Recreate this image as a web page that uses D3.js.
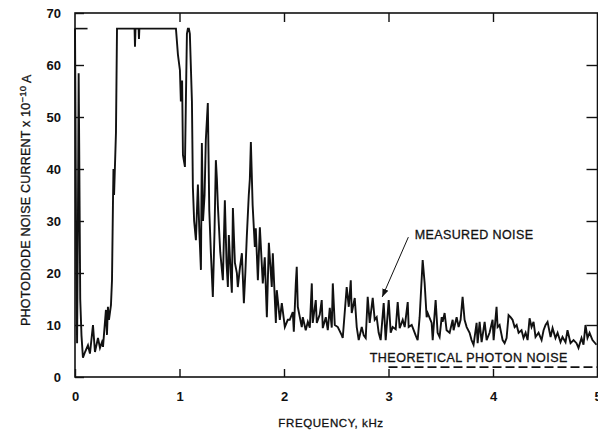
<!DOCTYPE html>
<html>
<head>
<meta charset="utf-8">
<script src="https://cdn.jsdelivr.net/npm/d3@7"></script>
<style>
body { margin: 0; background: #fff; }
text { font-family: "Liberation Sans", Arial, Helvetica, sans-serif; fill: #111; }
.label { stroke: #111; stroke-width: 0.3px; }
</style>
</head>
<body>
<div id="chart"></div>
<script>
// frequency in kHz, noise current in units of 1e-10 A
const freq_ticks = [0, 1, 2, 3, 4, 5];
const current_ticks = [0, 10, 20, 30, 40, 50, 60, 70];

const measured_noise = [
    [0.000, 67], [0.005, 50], [0.012, 20], [0.020, 6.5], [0.028, 30], [0.035, 58.4], [0.040, 45],
    [0.050, 15], [0.062, 8], [0.076, 3.7], [0.096, 4.8], [0.124, 6.1], [0.143, 4.5], [0.172, 10],
    [0.191, 4.8], [0.220, 7.5], [0.239, 5.6], [0.258, 6.7], [0.268, 5.8], [0.296, 12.9], [0.306, 8.1],
    [0.315, 13.5], [0.325, 11], [0.344, 13.8], [0.354, 18.6], [0.363, 33], [0.368, 40], [0.374, 35],
    [0.392, 47], [0.402, 67], [0.570, 67], [0.574, 63.5], [0.579, 67], [0.609, 67], [0.612, 65],
    [0.616, 67], [0.966, 67], [0.985, 62], [1.004, 59], [1.013, 53], [1.025, 57], [1.033, 42.7],
    [1.052, 40.4], [1.061, 53], [1.071, 66], [1.080, 67], [1.090, 67], [1.099, 66], [1.119, 53],
    [1.128, 36.5], [1.140, 30], [1.157, 26.3], [1.176, 37], [1.190, 28], [1.205, 20.6], [1.214, 45],
    [1.225, 30], [1.240, 35], [1.252, 45.6], [1.271, 52.7], [1.285, 32], [1.300, 24], [1.319, 15.4],
    [1.335, 28], [1.348, 41.7], [1.358, 38], [1.367, 33], [1.390, 24], [1.415, 18.6], [1.434, 34],
    [1.450, 22], [1.463, 17.3], [1.472, 27.3], [1.490, 20], [1.501, 16.2], [1.511, 32.5], [1.530, 22],
    [1.549, 20], [1.558, 17.3], [1.578, 21], [1.597, 23.8], [1.616, 14.2], [1.630, 20], [1.644, 27],
    [1.663, 35], [1.673, 38], [1.683, 45.2], [1.700, 33], [1.721, 25], [1.730, 28.6], [1.750, 18.6],
    [1.769, 28.8], [1.797, 18], [1.816, 23], [1.836, 11.5], [1.855, 25.8], [1.883, 17.3], [1.893, 23.8],
    [1.922, 10.4], [1.931, 16.7], [1.960, 11], [1.979, 14.2], [2.008, 9.6], [2.036, 11], [2.055, 11],
    [2.084, 12.5], [2.094, 8.7], [2.113, 18], [2.122, 21.2], [2.132, 13.5], [2.170, 9.6], [2.180, 11.5],
    [2.208, 9], [2.228, 10.6], [2.247, 9.5], [2.266, 18], [2.275, 10.4], [2.304, 14.8], [2.314, 10.4],
    [2.342, 12], [2.361, 14.8], [2.371, 9.4], [2.400, 11.5], [2.419, 9], [2.438, 13.3], [2.457, 9.5],
    [2.467, 18], [2.486, 10], [2.515, 9.6], [2.553, 8], [2.562, 7.5], [2.600, 17.3], [2.620, 13.5],
    [2.639, 18.6], [2.648, 12.3], [2.677, 15.2], [2.696, 9.6], [2.715, 7.1], [2.744, 9.6], [2.763, 8],
    [2.782, 7.5], [2.801, 15.4], [2.820, 10.4], [2.849, 15.2], [2.868, 11], [2.887, 11.5], [2.906, 8.5],
    [2.925, 7.1], [2.954, 14.2], [2.973, 7.1], [3.002, 14.8], [3.021, 8.5], [3.040, 9.6], [3.069, 9.2],
    [3.088, 14.4], [3.107, 9.4], [3.136, 11], [3.155, 9.6], [3.184, 14.4], [3.193, 9.6], [3.222, 10],
    [3.241, 9], [3.260, 8], [3.279, 7.1], [3.298, 11.5], [3.327, 22.5], [3.346, 18], [3.365, 11.5],
    [3.375, 12.3], [3.413, 10.4], [3.423, 7.1], [3.451, 14.8], [3.470, 8.5], [3.489, 7.7], [3.509, 11.5],
    [3.518, 10.6], [3.537, 12.3], [3.556, 9], [3.585, 8.5], [3.614, 11], [3.623, 9], [3.652, 11.5],
    [3.671, 9.6], [3.690, 11], [3.709, 15.4], [3.728, 11], [3.748, 9.6], [3.776, 8.5], [3.795, 7.1],
    [3.814, 6.2], [3.843, 10.4], [3.853, 6.5], [3.872, 10.6], [3.891, 6.7], [3.920, 10.6], [3.939, 7.1],
    [3.967, 8.5], [3.996, 11], [4.006, 7.1], [4.034, 13.5], [4.044, 9.6], [4.063, 10], [4.092, 7.1],
    [4.111, 6.5], [4.130, 7.5], [4.149, 11.9], [4.168, 11.5], [4.187, 11], [4.207, 9.6], [4.226, 10],
    [4.245, 8.5], [4.273, 9], [4.292, 7.5], [4.312, 8.5], [4.331, 7.1], [4.350, 11.3], [4.369, 9.6],
    [4.388, 10.6], [4.407, 7.7], [4.436, 8.5], [4.465, 7.1], [4.484, 9], [4.503, 10], [4.522, 10.6],
    [4.551, 7.7], [4.570, 9.4], [4.598, 7.5], [4.618, 8.5], [4.646, 6.7], [4.665, 7.7], [4.694, 6.7],
    [4.713, 9], [4.742, 6.5], [4.771, 7.1], [4.799, 6.5], [4.818, 5.6], [4.847, 7.5], [4.866, 6.2],
    [4.885, 10], [4.904, 7.5], [4.924, 8.5], [4.952, 7.1], [4.990, 6.2]
];
// short overload bar drawn by the recorder at low frequency
const overload_mark = [[0.000, 67], [0.120, 67]];
const photon_noise = [[3.0, 1.9], [5.0, 1.9]];

function draw_chart()
{
    const width = 598, height = 434;
    const svg = d3.select("#chart").append("svg")
        .attr("width", width)
        .attr("height", height);

    const scale_x = d3.scaleLinear().domain([0, 5]).range([75, 597.5]);
    const scale_y = d3.scaleLinear().domain([0, 70]).range([377, 13]);

    // frame
    svg.append("rect")
        .attr("x", scale_x(0))
        .attr("y", scale_y(70))
        .attr("width", scale_x(5) - scale_x(0))
        .attr("height", scale_y(0) - scale_y(70))
        .attr("fill", "none")
        .attr("stroke", "#111")
        .attr("stroke-width", 1.6);

    const x_axis = svg.append("g")
        .attr("transform", `translate(0, ${scale_y(0)})`)
        .call(d3.axisBottom(scale_x).tickValues(freq_ticks).tickFormat(d3.format("d"))
            .tickSizeInner(-8).tickSizeOuter(0).tickPadding(15));
    x_axis.selectAll("text").style("font-size", "13px").style("font-weight", "bold");

    const y_axis = svg.append("g")
        .attr("transform", `translate(${scale_x(0)}, 0)`)
        .call(d3.axisLeft(scale_y).tickValues(current_ticks)
            .tickSizeInner(-9).tickSizeOuter(0).tickPadding(14));
    y_axis.selectAll("text").style("font-size", "13px").style("font-weight", "bold");

    svg.append("g")
        .attr("transform", `translate(0, ${scale_y(70)})`)
        .call(d3.axisTop(scale_x).tickValues(freq_ticks.slice(1, -1)).tickFormat("")
            .tickSizeInner(-9).tickSizeOuter(0));

    svg.append("g")
        .attr("transform", `translate(${scale_x(5)}, 0)`)
        .call(d3.axisRight(scale_y).tickValues(current_ticks.slice(1, -1)).tickFormat("")
            .tickSizeInner(-11).tickSizeOuter(0));

    svg.selectAll(".domain").remove();
    svg.selectAll(".tick line").attr("stroke", "#111").attr("stroke-width", 1.4);

    const line = d3.line()
        .x(d => scale_x(d[0]))
        .y(d => scale_y(d[1]));

    svg.append("path")
        .datum(measured_noise)
        .attr("d", line)
        .attr("fill", "none")
        .attr("stroke", "#111")
        .attr("stroke-width", 1.9)
        .attr("stroke-linejoin", "miter");

    svg.append("path")
        .datum(overload_mark)
        .attr("d", line)
        .attr("fill", "none")
        .attr("stroke", "#111")
        .attr("stroke-width", 1.6);

    svg.append("path")
        .datum(photon_noise)
        .attr("d", line)
        .attr("fill", "none")
        .attr("stroke", "#111")
        .attr("stroke-width", 1.6)
        .attr("stroke-dasharray", "9,4");

    // annotations
    svg.append("defs").append("marker")
        .attr("id", "arrow_head")
        .attr("viewBox", "0 0 10 10")
        .attr("refX", 10).attr("refY", 5)
        .attr("markerWidth", 8).attr("markerHeight", 8)
        .attr("markerUnits", "userSpaceOnUse")
        .attr("orient", "auto")
        .append("path")
        .attr("d", "M0,1 L10,5 L0,9 Z")
        .attr("fill", "#111");

    svg.append("line")
        .attr("x1", scale_x(3.19)).attr("y1", scale_y(26.9))
        .attr("x2", scale_x(2.94)).attr("y2", scale_y(15.4))
        .attr("stroke", "#111")
        .attr("stroke-width", 1)
        .attr("marker-end", "url(#arrow_head)");

    svg.append("text")
        .attr("class", "label")
        .attr("x", scale_x(3.25))
        .attr("y", scale_y(26.5))
        .style("font-size", "12.5px")
        .style("letter-spacing", "0.4px")
        .text("MEASURED NOISE");

    svg.append("text")
        .attr("class", "label")
        .attr("x", scale_x(2.82))
        .attr("y", scale_y(2.8))
        .style("font-size", "12.5px")
        .style("letter-spacing", "0.5px")
        .text("THEORETICAL PHOTON NOISE");

    svg.append("text")
        .attr("class", "label")
        .attr("x", scale_x(2.45))
        .attr("y", 427)
        .attr("text-anchor", "middle")
        .style("font-size", "11.5px")
        .style("letter-spacing", "0.6px")
        .text("FREQUENCY, kHz");

    const y_label = svg.append("text")
        .attr("class", "label")
        .attr("transform", `translate(30, ${scale_y(34)}) rotate(-90)`)
        .attr("text-anchor", "middle")
        .style("font-size", "12.5px")
        .style("letter-spacing", "0.2px");
    y_label.append("tspan").text("PHOTODIODE NOISE CURRENT x 10");
    y_label.append("tspan").attr("dy", "-0.45em").style("font-size", "9.5px").text("\u221210");
    y_label.append("tspan").attr("dy", "0.45em").text(" A");
}
draw_chart();
</script>
</body>
</html>
